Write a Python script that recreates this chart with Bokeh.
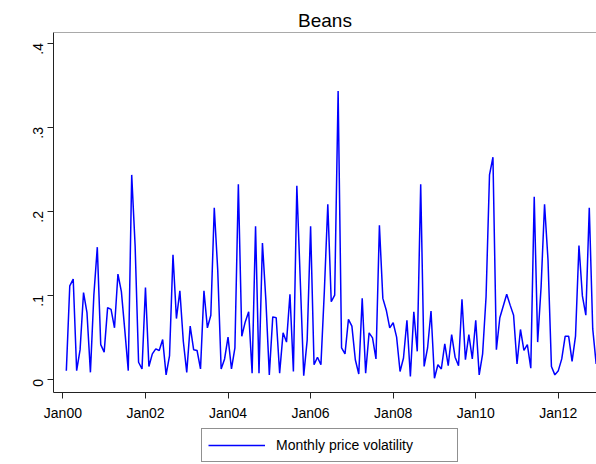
from bokeh.plotting import figure
from bokeh.layouts import column
from bokeh.models import Range1d, FixedTicker, Span, Legend, LegendItem, CustomJSTickFormatter
from bokeh.embed import file_html
from bokeh.resources import INLINE
import math

# Monthly price volatility for beans, Feb 2000 through Dec 2012
first_month = 1  # months since Jan 2000
volatility = [
    0.010, 0.111, 0.119, 0.010, 0.035, 0.103, 0.079, 0.008, 0.100, 0.157, 0.041,
    0.032, 0.085, 0.083, 0.061, 0.125, 0.104, 0.058, 0.010, 0.243, 0.158, 0.020, 0.012,
    0.109, 0.015, 0.030, 0.036, 0.034, 0.047, 0.005, 0.028, 0.148, 0.072, 0.105, 0.045,
    0.008, 0.063, 0.035, 0.034, 0.012, 0.105, 0.061, 0.076, 0.204, 0.130, 0.012, 0.024,
    0.050, 0.012, 0.037, 0.232, 0.051, 0.068, 0.080, 0.007, 0.182, 0.007, 0.162, 0.094,
    0.005, 0.074, 0.073, 0.007, 0.055, 0.044, 0.101, 0.009, 0.230, 0.117, 0.004, 0.046,
    0.182, 0.017, 0.026, 0.017, 0.105, 0.208, 0.092, 0.100, 0.343, 0.037, 0.030, 0.071,
    0.063, 0.023, 0.006, 0.096, 0.007, 0.055, 0.049, 0.024, 0.183, 0.096, 0.082, 0.061,
    0.067, 0.050, 0.009, 0.025, 0.070, 0.003, 0.080, 0.033, 0.232, 0.015, 0.037, 0.081,
    0.001, 0.017, 0.012, 0.042, 0.016, 0.053, 0.026, 0.016, 0.095, 0.023, 0.053, 0.024,
    0.070, 0.005, 0.030, 0.098, 0.243, 0.264, 0.035, 0.073, 0.087, 0.101, 0.088, 0.076,
    0.018, 0.059, 0.034, 0.041, 0.013, 0.217, 0.044, 0.110, 0.208, 0.142, 0.015, 0.005,
    0.010, 0.024, 0.051, 0.051, 0.021, 0.051, 0.159, 0.099, 0.076, 0.204, 0.060, 0.018,
]
months = list(range(first_month, first_month + len(volatility)))
series_label = "Monthly price volatility"

x_ticks = [0, 24, 48, 72, 96, 120, 144]
x_tick_labels = ["Jan00", "Jan02", "Jan04", "Jan06", "Jan08", "Jan10", "Jan12"]
y_ticks = [0, 0.1, 0.2, 0.3, 0.4]
y_tick_labels = ["0", ".1", ".2", ".3", ".4"]

FONT = "Liberation Sans"
AXIS_COLOR = "#222222"
LINE_COLOR = "#0000ff"

p = figure(
    width=596, height=428,
    x_range=Range1d(-2.73, 155.1),
    y_range=Range1d(-0.016, 0.4125),
    output_backend="svg", toolbar_location=None,
    min_border_left=53, min_border_right=0,
    min_border_top=32, min_border_bottom=36,
    background_fill_color="white", border_fill_color="white",
)
p.outline_line_color = None
p.grid.visible = False

p.title.text = "Beans"
p.title.align = "center"
p.title.text_font = FONT
p.title.text_font_size = "19px"
p.title.text_font_style = "normal"
p.title.text_color = "black"
p.title.standoff = 4

# top border of the plot region
p.add_layout(Span(location=0.4125, dimension="width", line_color="#555555", line_width=1))

p.line(months, volatility, line_color=LINE_COLOR, line_width=1.5)

for ax in (p.xaxis[0], p.yaxis[0]):
    ax.axis_line_color = AXIS_COLOR
    ax.major_tick_line_color = AXIS_COLOR
    ax.minor_tick_line_color = None
    ax.major_tick_in = 0
    ax.major_tick_out = 6
    ax.major_label_text_font = FONT
    ax.major_label_text_font_size = "14px"
    ax.major_label_text_color = "black"

p.xaxis.ticker = FixedTicker(ticks=x_ticks)
p.xaxis.formatter = CustomJSTickFormatter(
    args=dict(tvals=x_ticks, tlabels=x_tick_labels),
    code="const i = tvals.indexOf(Math.round(tick)); return i >= 0 ? tlabels[i] : '';",
)
p.xaxis.major_label_standoff = 6

p.yaxis.ticker = FixedTicker(ticks=y_ticks)
p.yaxis.formatter = CustomJSTickFormatter(
    args=dict(tvals=y_ticks, tlabels=y_tick_labels),
    code="""
let best = 0;
for (let i = 1; i < tvals.length; i++) {
  if (Math.abs(tvals[i] - tick) < Math.abs(tvals[best] - tick)) best = i;
}
return tlabels[best];
""",
)
p.yaxis.major_label_orientation = math.pi / 2
p.yaxis.major_label_standoff = 9

# legend strip underneath the chart (its frame lines up with the chart's frame)
leg = figure(
    width=596, height=36,
    x_range=Range1d(0, 1), y_range=Range1d(0, 1),
    output_backend="svg", toolbar_location=None,
    x_axis_type=None, y_axis_type=None,
    min_border_left=0, min_border_right=0, min_border_top=0, min_border_bottom=0,
    background_fill_color="white", border_fill_color="white",
)
leg.outline_line_color = None
leg.grid.visible = False
# key line kept outside the visible range; only its legend swatch shows
key_line = leg.line(x=[-2, -1], y=[-2, -2], line_color=LINE_COLOR, line_width=1.5)

legend = Legend(
    items=[LegendItem(label=series_label, renderers=[key_line])],
    location=(148, 2), orientation="horizontal",
    glyph_width=57, glyph_height=20, label_height=20,
    label_standoff=11, label_width=175,
    padding=6, margin=0, spacing=0,
    border_line_color="#222222", border_line_width=1,
    label_text_font=FONT, label_text_font_size="14px",
    label_text_color="black",
    background_fill_color="white", background_fill_alpha=1.0,
)
leg.add_layout(legend)

layout = column(p, leg, spacing=0)
open("out.html", "w").write(file_html(layout, INLINE))
